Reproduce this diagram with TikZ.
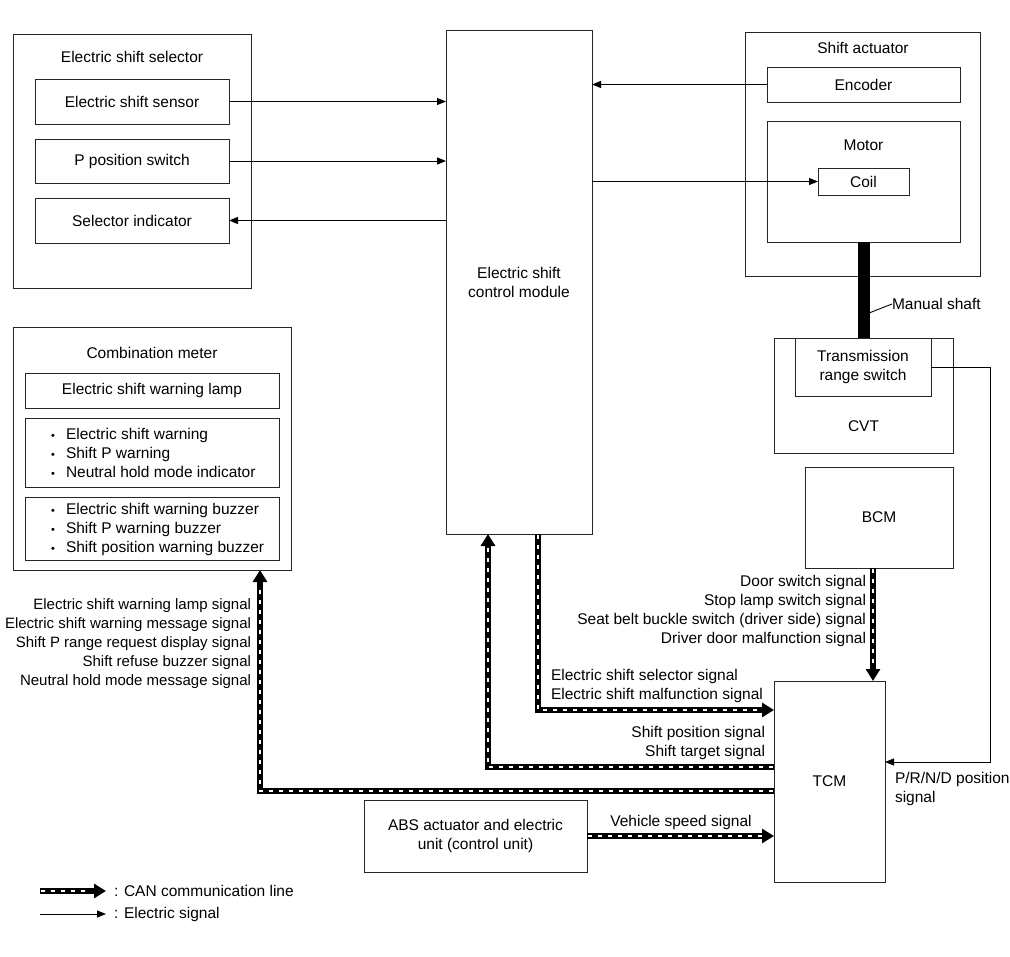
\documentclass[tikz,border=0pt]{standalone}
\usepackage{fontspec}
\setmainfont{Liberation Sans}
\usetikzlibrary{arrows.meta,decorations.markings}
\tikzset{
  every node/.style={font=\fontsize{15.5}{19}\selectfont, inner sep=0pt, outer sep=0pt},
  box/.style={draw=black!85, line width=0.9pt},
  sig/.style={line width=0.9pt, -{Triangle[length=9pt,width=7pt]}},
  can/.style={draw=black, line width=6pt, -{Triangle[length=12pt,width=14pt]},
    postaction={decorate, decoration={markings,
      mark=between positions 3pt and -14pt step 10pt with {\fill[white] (-2.2pt,-1.3pt) rectangle (2.2pt,1.3pt);}}}},
}
\newcommand{\bul}{\makebox[15pt][l]{\fontsize{11}{11}\selectfont •}}
\begin{document}
\begin{tikzpicture}[x=1pt,y=-1pt]
    \useasboundingbox (0,0) rectangle (1010,957);
    % electric shift selector
    \node[box, minimum width=238pt, minimum height=254pt] at (132,161) (sel) {};
    \node at (132,57) (seltitle) {Electric shift selector};
    \node[box, minimum width=194pt, minimum height=45pt] at (132,101.5) (sens) {Electric shift sensor};
    \node[box, minimum width=194pt, minimum height=44pt] at (132,161) (psw) {P position switch};
    \node[box, minimum width=194pt, minimum height=45pt] at (132,220.5) (selind) {Selector indicator};
    % control module
    \node[box, align=center, minimum width=146pt, minimum height=504pt] at (519,282) (escm) {Electric shift\\control module};
    % shift actuator
    \node[box, minimum width=235pt, minimum height=244pt] at (862.5,154) (act) {};
    \node at (863,48) (acttitle) {Shift actuator};
    \node[box, minimum width=193pt, minimum height=35pt] at (863.5,84.5) (enc) {Encoder};
    \node[box, minimum width=193pt, minimum height=121pt] at (863.5,181.5) (motor) {};
    \node at (863.5,145) (motortitle) {Motor};
    \node[box, minimum width=91pt, minimum height=27pt] at (863.5,181.5) (coil) {Coil};
    % CVT
    \node[box, minimum width=179pt, minimum height=115pt] at (863.5,395.5) (cvt) {};
    \node at (863.5,426) (cvttitle) {CVT};
    \node[box, align=center, minimum width=136pt, minimum height=58pt] at (863,367) (trs) {Transmission\\range switch};
    \draw[line width=12pt] (motor.south) -- (motor.south |- cvt.north);
    \node[anchor=west] at (892,304) (shaftlbl) {Manual shaft};
    \draw[line width=0.9pt] (869,313) -- (shaftlbl.west);
    % BCM, TCM, ABS
    \node[box, minimum width=148pt, minimum height=101pt] at (879,517.5) (bcm) {BCM};
    \node[box, minimum width=111pt, minimum height=201pt] at (829.5,781.5) (tcm) {TCM};
    \node[box, align=center, minimum width=223pt, minimum height=72pt] at (475.5,836) (abs) {ABS actuator and electric\\unit (control unit)};
    % combination meter
    \node[box, minimum width=278pt, minimum height=243pt] at (152,448.5) (meter) {};
    \node at (152,353) (metertitle) {Combination meter};
    \node[box, minimum width=254pt, minimum height=35pt] at (152,390.5) (lamp) {Electric shift warning lamp};
    \node[box, minimum width=254pt, minimum height=69pt] at (152,452.5) (warn) {};
    \node[align=left, anchor=west] at (51,453) (warntxt) {\bul Electric shift warning\\\bul Shift P warning\\\bul Neutral hold mode indicator};
    \node[box, minimum width=254pt, minimum height=63pt] at (152,528.5) (buzz) {};
    \node[align=left, anchor=west] at (51,529) (buzztxt) {\bul Electric shift warning buzzer\\\bul Shift P warning buzzer\\\bul Shift position warning buzzer};
    % electric signals
    \draw[sig] (sens.east) -- (sens.east -| escm.west);
    \draw[sig] (psw.east) -- (psw.east -| escm.west);
    \draw[sig] (escm.west |- selind.east) -- (selind.east);
    \draw[sig] (enc.west) -- (enc.west -| escm.east);
    \draw[sig] (escm.east |- coil.west) -- (coil.west);
    \draw[sig] (trs.east) -- ++(59,0) |- ([yshift=19.5pt]tcm.east);
    % CAN lines
    \draw[can] ([xshift=19pt]escm.south) |- ([yshift=71.5pt]tcm.west);
    \draw[can] ([yshift=14.5pt]tcm.west) -| ([xshift=-31pt]escm.south);
    \draw[can] ([yshift=-9.5pt]tcm.west) -| ([xshift=108pt]meter.south);
    \draw[can] ([xshift=-6pt]bcm.south) -- ([xshift=-6pt]bcm.south |- tcm.north);
    \draw[can] (abs.east) -- (abs.east -| tcm.west);
    % signal labels
    \node[align=right, anchor=east] at (866,611) (bcmlbl) {Door switch signal\\Stop lamp switch signal\\Seat belt buckle switch (driver side) signal\\Driver door malfunction signal};
    \node[align=left, anchor=west] at (551,686) (escmlbl) {Electric shift selector signal\\Electric shift malfunction signal};
    \node[align=right, anchor=east] at (765,743) (tcmlbl) {Shift position signal\\Shift target signal};
    \node[align=right, anchor=east, font=\fontsize{15}{19}\selectfont] at (251,644) (meterlbl) {Electric shift warning lamp signal\\Electric shift warning message signal\\Shift P range request display signal\\Shift refuse buzzer signal\\Neutral hold mode message signal};
    \node at (681,822) (abslbl) {Vehicle speed signal};
    \node[align=left, anchor=west] at (895,789) (prndlbl) {P/R/N/D position\\signal};
    % legend
    \coordinate (cana) at (40,891);
    \coordinate (canb) at (106,891);
    \coordinate (siga) at (40,914);
    \coordinate (sigb) at (106,914);
    \draw[can] (cana) -- (canb);
    \draw[sig] (siga) -- (sigb);
    \node[anchor=west] at (114,891) (canlbl) {: CAN communication line};
    \node[anchor=west] at (114,914) (siglbl) {: Electric signal};
\end{tikzpicture}
\end{document}
